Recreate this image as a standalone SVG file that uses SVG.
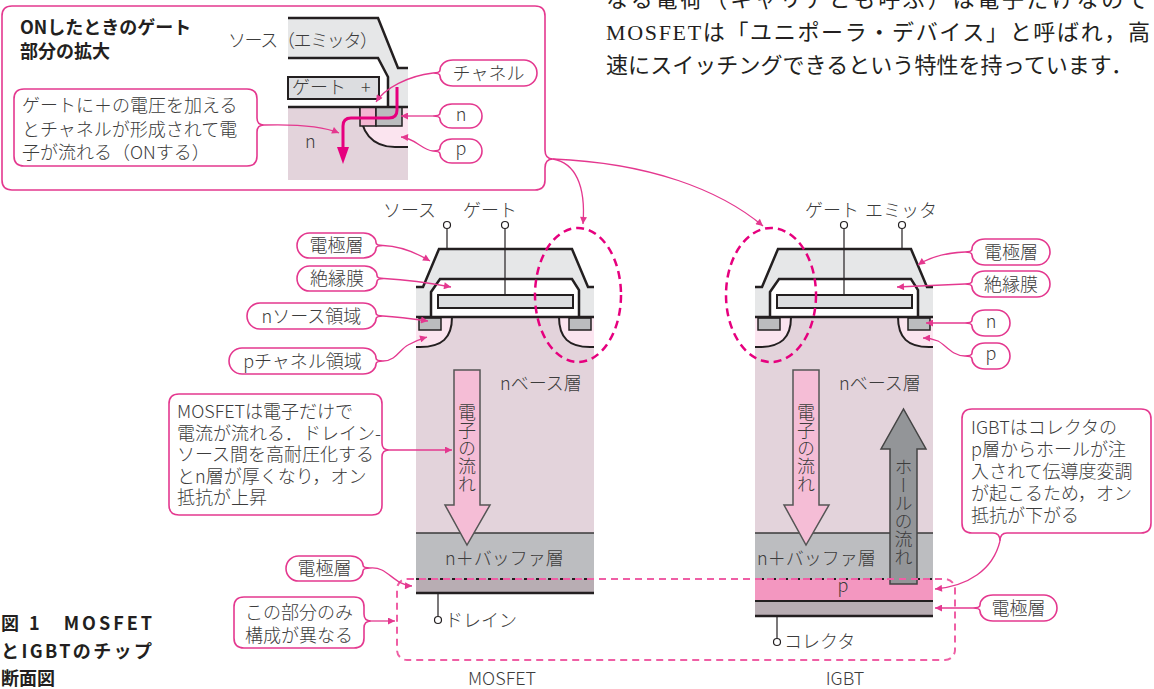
<svg xmlns="http://www.w3.org/2000/svg" width="1154" height="689" viewBox="0 0 1154 689">
  <style>
    .t { font-family: "Noto Sans CJK JP", "Noto Sans", sans-serif; fill: #3c3c3c; font-size: 18px; font-weight: 300; }
    .b { font-weight: bold; fill: #231f20; }
    .ser { font-family: "Liberation Serif", "Noto Sans CJK JP", serif; fill: #231f20; font-size: 22px; }
    .bub { fill: #fff; stroke: #e4388f; stroke-width: 1.6; }
    .con { fill: none; stroke: #e4388f; stroke-width: 1.3; }
    .ol { fill: none; stroke: #231f20; stroke-width: 2.5; stroke-linejoin: miter; }
    .thin { fill: none; stroke: #231f20; stroke-width: 1.2; }
    .term { fill: #fff; stroke: #231f20; stroke-width: 1.2; }
    .sub { fill: #e3d3db; }
    .elec { fill: #e6e7e8; }
    .gate { fill: #dcdde0; stroke: #231f20; stroke-width: 2; }
    .nreg { fill: #bbbcbe; stroke: #231f20; stroke-width: 1.5; }
    .preg { fill: #fbe4ef; }
    .curve { fill: none; stroke: #231f20; stroke-width: 2; }
    .ell { fill: none; stroke: #e6007e; stroke-width: 2.5; stroke-dasharray: 8 5; }
    .vt { writing-mode: vertical-rl; }
  </style>
  <defs>
    <marker id="ah" viewBox="0 0 10 10" refX="10" refY="5" markerWidth="9" markerHeight="7" markerUnits="userSpaceOnUse" orient="auto">
      <path d="M0,0 L10,5 L0,10 Z" fill="#e4388f"/>
    </marker>
  </defs>

  <!-- body text, top right -->
  <g id="body-text">
    <text class="ser" x="606" y="7" textLength="542" lengthAdjust="spacing">なる電荷（キャリアとも呼ぶ）は電子だけなので</text>
    <text class="ser" x="606" y="40" textLength="544" lengthAdjust="spacing">MOSFETは「ユニポーラ・デバイス」と呼ばれ，高</text>
    <text class="ser" x="606" y="73" textLength="527" lengthAdjust="spacing">速にスイッチングできるという特性を持っています．</text>
  </g>

  <!-- enlarged gate region (ON state) -->
  <g id="inset">
    <path class="bub" d="M12,6 H535 Q545,6 545,16 V150 Q545,159 553,159 Q545,159 545,168 V180 Q545,190 535,190 H12 Q2,190 2,180 V16 Q2,6 12,6 Z"/>
    <text class="t b" x="20" y="34">ONしたときのゲート</text>
    <text class="t b" x="20" y="58">部分の拡大</text>
    <!-- cut-away -->
    <rect class="sub" x="288" y="107" width="120" height="73"/>
    <path class="elec" d="M288,18 L378,18 L398,68 L408,68 L408,107 L388,107 L388,77 L378,58 L288,58 Z"/>
    <polyline class="ol" points="288,18 378,18 398,68 408,68"/>
    <polyline class="ol" points="288,58 378,58 388,77 388,107"/>
    <rect class="gate" x="288" y="77" width="91" height="22"/>
    <path class="preg" d="M360,107 L408,107 L408,147 L395,147 C372,147 360,132 360,107 Z"/>
    <path class="curve" d="M360,107 C360,132 372,147 395,147 L408,147"/>
    <rect x="360" y="107" width="16" height="19" fill="#f4b6d2" stroke="#231f20" stroke-width="1.5"/>
    <rect class="nreg" x="376" y="107" width="26" height="19"/>
    <line x1="288" y1="107" x2="408" y2="107" stroke="#231f20" stroke-width="2.5"/>
    <text class="t" x="228" y="47" font-size="17" textLength="150" lengthAdjust="spacing">ソース（エミッタ）</text>
    <text class="t" y="94" font-size="17"><tspan x="292">ゲート</tspan><tspan x="361">+</tspan></text>
    <text class="t" x="305" y="148" font-size="19">n</text>
    <!-- electron path through the channel -->
    <path d="M397,87 V110 Q397,118 389,118 H351 Q343,118 343,126 V150" fill="none" stroke="#e6007e" stroke-width="3"/>
    <polygon points="337,147 349,147 343,164" fill="#e6007e"/>
  </g>
  <g id="inset-note">
    <path class="bub" d="M24,89 H247 Q257,89 257,99 V118 Q257,125 264,125 Q257,125 257,132 V156 Q257,166 247,166 H24 Q14,166 14,156 V99 Q14,89 24,89 Z"/>
    <text class="t" x="22" y="112" font-size="18.5">ゲートに＋の電圧を加える</text>
    <text class="t" x="22" y="136" font-size="18.5">とチャネルが形成されて電</text>
    <text class="t" x="22" y="159" font-size="18.5">子が流れる（ONする）</text>
  </g>
  <g id="inset-channel">
    <path class="bub" d="M453,60 H524 A13,13 0 0 1 524,86 H453 C445,86 440,81 440,76 Q440,73 433,73 Q440,73 440,70 C440,65 445,60 453,60 Z"/>
    <text class="t" x="488.5" y="80" text-anchor="middle">チャネル</text>
  </g>
  <g id="inset-n">
    <path class="bub" d="M452,104 H470 A12,12 0 0 1 470,128 H452 C444.5,128 440,123 440,119 Q440,116 433,116 Q440,116 440,113 C440,109 444.5,104 452,104 Z"/>
    <text class="t" x="461" y="121" text-anchor="middle" font-size="19">n</text>
  </g>
  <g id="inset-p">
    <path class="bub" d="M452,139 H470 A12,12 0 0 1 470,163 H452 C444.5,163 440,158 440,154 Q440,151 433,151 Q440,151 440,148 C440,144 444.5,139 452,139 Z"/>
    <text class="t" x="461" y="155" text-anchor="middle" font-size="19">p</text>
  </g>

  <!-- MOSFET cross-section -->
  <g id="mosfet">
    <rect class="sub" x="416" y="317" width="178" height="216"/>
    <rect x="416" y="533" width="178" height="46" fill="#bcbdc0"/>
    <rect x="416" y="579" width="178" height="14" fill="#b8adb3"/>
    <line x1="416" y1="533" x2="594" y2="533" stroke="#3a3a3a" stroke-width="1.5"/>
    <line x1="416" y1="579" x2="594" y2="579" stroke="#231f20" stroke-width="2" stroke-dasharray="3 3"/>
    <line x1="416" y1="593" x2="594" y2="593" stroke="#231f20" stroke-width="2.5"/>
    <path class="elec" d="M416,287 L423,287 L439,249 L572,249 L588,287 L594,287 L594,317 L416,317 Z"/>
    <path d="M431,317 L431,292 L440,279 L572,279 L579,290 L579,317 Z" fill="#fff"/>
    <polyline class="ol" points="416,287 423,287 439,249 572,249 588,287 594,287"/>
    <polyline class="ol" points="431,317 431,292 440,279 572,279 579,290 579,317"/>
    <rect class="gate" x="438" y="295" width="135" height="13"/>
    <path class="preg" d="M416,317 L452,317 C452,338 442,347 420,347 L416,347 Z"/>
    <path class="curve" d="M452,317 C452,338 442,347 420,347 L416,347"/>
    <path class="preg" d="M559,317 L594,317 L594,347 L590,347 C569,347 559,338 559,317 Z"/>
    <path class="curve" d="M559,317 C559,338 569,347 590,347 L594,347"/>
    <rect class="nreg" x="419" y="318" width="22" height="12"/>
    <rect class="nreg" x="569" y="318" width="22" height="12"/>
    <line x1="416" y1="317" x2="594" y2="317" stroke="#231f20" stroke-width="2.5"/>
    <line class="thin" x1="447" y1="229" x2="447" y2="249"/>
    <line class="thin" x1="505" y1="229" x2="505" y2="295"/>
    <circle class="term" cx="447" cy="225" r="3.5"/>
    <circle class="term" cx="505" cy="225" r="3.5"/>
    <text class="t" x="383" y="217" font-size="18.5">ソース</text>
    <text class="t" x="463" y="217" font-size="18.5">ゲート</text>
    <text class="t" x="500" y="390" font-size="19">nベース層</text>
    <polygon points="454,370 480,370 480,505 490,505 467,545 445,505 454,505" fill="#f5bdd6" stroke="#555" stroke-width="1.5"/>
    <text class="t vt" x="467" y="403" font-size="19">電子の流れ</text>
    <text class="t" x="445" y="565" font-size="19">n＋バッファ層</text>
    <line class="thin" x1="438" y1="593" x2="438" y2="616"/>
    <circle class="term" cx="438" cy="620" r="3.5"/>
    <text class="t" x="445" y="627" font-size="19">ドレイン</text>
    <text class="t" x="502" y="685" text-anchor="middle">MOSFET</text>
  </g>

  <!-- IGBT cross-section -->
  <g id="igbt">
    <rect class="sub" x="755" y="317" width="178" height="216"/>
    <rect x="755" y="533" width="178" height="46" fill="#bcbdc0"/>
    <rect x="755" y="579" width="178" height="22" fill="#f397c0"/>
    <rect x="755" y="601" width="178" height="15" fill="#b8adb3"/>
    <line x1="755" y1="533" x2="933" y2="533" stroke="#3a3a3a" stroke-width="1.5"/>
    <line x1="755" y1="579" x2="933" y2="579" stroke="#231f20" stroke-width="2" stroke-dasharray="3 3"/>
    <line x1="755" y1="601" x2="933" y2="601" stroke="#231f20" stroke-width="2"/>
    <line x1="755" y1="616" x2="933" y2="616" stroke="#231f20" stroke-width="2.5"/>
    <path class="elec" d="M755,287 L762,287 L778,249 L911,249 L927,287 L933,287 L933,317 L755,317 Z"/>
    <path d="M770,317 L770,292 L779,279 L911,279 L918,290 L918,317 Z" fill="#fff"/>
    <polyline class="ol" points="755,287 762,287 778,249 911,249 927,287 933,287"/>
    <polyline class="ol" points="770,317 770,292 779,279 911,279 918,290 918,317"/>
    <rect class="gate" x="777" y="295" width="135" height="13"/>
    <path class="preg" d="M755,317 L791,317 C791,338 781,347 759,347 L755,347 Z"/>
    <path class="curve" d="M791,317 C791,338 781,347 759,347 L755,347"/>
    <path class="preg" d="M898,317 L933,317 L933,347 L929,347 C908,347 898,338 898,317 Z"/>
    <path class="curve" d="M898,317 C898,338 908,347 929,347 L933,347"/>
    <rect class="nreg" x="758" y="318" width="22" height="12"/>
    <rect class="nreg" x="908" y="318" width="22" height="12"/>
    <line x1="755" y1="317" x2="933" y2="317" stroke="#231f20" stroke-width="2.5"/>
    <line class="thin" x1="844" y1="229" x2="844" y2="295"/>
    <line class="thin" x1="902" y1="229" x2="902" y2="249"/>
    <circle class="term" cx="844" cy="225" r="3.5"/>
    <circle class="term" cx="902" cy="225" r="3.5"/>
    <text class="t" x="805" y="217" font-size="18.5">ゲート</text>
    <text class="t" x="865" y="217" font-size="18.5">エミッタ</text>
    <text class="t" x="839" y="390" font-size="19">nベース層</text>
    <polygon points="793,370 819,370 819,505 829,505 806,545 784,505 793,505" fill="#f5bdd6" stroke="#555" stroke-width="1.5"/>
    <text class="t vt" x="806" y="403" font-size="19">電子の流れ</text>
    <text class="t" x="757" y="565" font-size="19">n＋バッファ層</text>
    <polygon points="890,584 917,584 917,449 926,449 903.5,409 881,449 890,449" fill="#939598" stroke="#444" stroke-width="1.5"/>
    <text class="t vt" x="903.5" y="458" font-size="19">ホールの流れ</text>
    <text class="t" x="843" y="592" text-anchor="middle" font-size="19">p</text>
    <line class="thin" x1="777" y1="616" x2="777" y2="638"/>
    <circle class="term" cx="777" cy="642" r="3.5"/>
    <text class="t" x="784" y="648" font-size="19">コレクタ</text>
    <text class="t" x="845" y="685" text-anchor="middle">IGBT</text>
  </g>

  <!-- highlighted regions -->
  <g id="highlights">
    <ellipse class="ell" cx="578" cy="295" rx="43" ry="67"/>
    <ellipse class="ell" cx="771" cy="295" rx="45" ry="67"/>
    <rect x="397" y="579" width="558" height="81" rx="10" fill="none" stroke="#ef5fa5" stroke-width="2" stroke-dasharray="7 5"/>
  </g>

  <!-- MOSFET callouts -->
  <g id="m-electrode">
    <path class="bub" d="M309.5,233 H363.5 C371,233 376,238 376,242.5 Q376,245.5 383,245.5 Q376,245.5 376,248.5 C376,253 371,258 363.5,258 H309.5 A12.5,12.5 0 0 1 309.5,233 Z"/>
    <text class="t" x="336.5" y="252" text-anchor="middle">電極層</text>
  </g>
  <g id="m-insulator">
    <path class="bub" d="M309.5,266 H364.5 C372,266 377,271 377,275.5 Q377,278.5 384,278.5 Q377,278.5 377,281.5 C377,286 372,291 364.5,291 H309.5 A12.5,12.5 0 0 1 309.5,266 Z"/>
    <text class="t" x="337" y="285" text-anchor="middle">絶縁膜</text>
  </g>
  <g id="m-nsource">
    <path class="bub" d="M260,303 H363 C371,303 376,308 376,313 Q376,316 383,316 Q376,316 376,319 C376,324 371,329 363,329 H260 A13,13 0 0 1 260,303 Z"/>
    <text class="t" x="311.5" y="323" text-anchor="middle">nソース領域</text>
  </g>
  <g id="m-pchannel">
    <path class="bub" d="M242,348 H363 C371,348 376,353 376,358 Q376,361 383,361 Q376,361 376,364 C376,369 371,374 363,374 H242 A13,13 0 0 1 242,348 Z"/>
    <text class="t" x="302.5" y="368" text-anchor="middle">pチャネル領域</text>
  </g>
  <g id="m-note">
    <path class="bub" d="M179,394 H372 Q382,394 382,404 V443 Q382,450 389,450 Q382,450 382,457 V505 Q382,515 372,515 H179 Q169,515 169,505 V404 Q169,394 179,394 Z"/>
    <text class="t" x="177" y="418" font-size="17.5">MOSFETは電子だけで</text>
    <text class="t" x="177" y="439.5" font-size="17.5">電流が流れる．ドレイン-</text>
    <text class="t" x="177" y="461" font-size="17.5">ソース間を高耐圧化する</text>
    <text class="t" x="177" y="482.5" font-size="17.5">とn層が厚くなり，オン</text>
    <text class="t" x="177" y="504" font-size="17.5">抵抗が上昇</text>
  </g>
  <g id="m-bottom-electrode">
    <path class="bub" d="M298.5,556 H350.5 C358,556 363,561 363,565 Q363,568 370,568 Q363,568 363,571 C363,576 358,581 350.5,581 H298.5 A12.5,12.5 0 0 1 298.5,556 Z"/>
    <text class="t" x="324.5" y="575" text-anchor="middle">電極層</text>
  </g>
  <g id="diff-note">
    <path class="bub" d="M244,597 H354 Q364,597 364,607 V614 Q364,621 371,621 Q364,621 364,628 V638 Q364,648 354,648 H244 Q234,648 234,638 V607 Q234,597 244,597 Z"/>
    <text class="t" x="245" y="619">この部分のみ</text>
    <text class="t" x="245" y="642">構成が異なる</text>
  </g>

  <!-- IGBT callouts -->
  <g id="i-electrode">
    <path class="bub" d="M985,239 H1037 A13,13 0 0 1 1037,265 H985 C977,265 972,260 972,255 Q972,252 965,252 Q972,252 972,249 C972,244 977,239 985,239 Z"/>
    <text class="t" x="1011" y="259" text-anchor="middle">電極層</text>
  </g>
  <g id="i-insulator">
    <path class="bub" d="M985,271 H1037 A13,13 0 0 1 1037,297 H985 C977,297 972,292 972,287 Q972,284 965,284 Q972,284 972,281 C972,276 977,271 985,271 Z"/>
    <text class="t" x="1011" y="291" text-anchor="middle">絶縁膜</text>
  </g>
  <g id="i-n">
    <path class="bub" d="M985,310 H997 A13,13 0 0 1 997,336 H985 C977,336 972,331 972,326 Q972,323 965,323 Q972,323 972,320 C972,315 977,310 985,310 Z"/>
    <text class="t" x="991" y="328" text-anchor="middle" font-size="19">n</text>
  </g>
  <g id="i-p">
    <path class="bub" d="M985,343 H997 A13,13 0 0 1 997,369 H985 C977,369 972,364 972,359 Q972,356 965,356 Q972,356 972,353 C972,348 977,343 985,343 Z"/>
    <text class="t" x="991" y="360" text-anchor="middle" font-size="19">p</text>
  </g>
  <g id="i-note">
    <path class="bub" d="M972,409 H1141 Q1151,409 1151,419 V523 Q1151,533 1141,533 H1007 Q1000,533 1000,541 Q1000,533 993,533 H972 Q962,533 962,523 V419 Q962,409 972,409 Z"/>
    <text class="t" x="971" y="434" font-size="18.5">IGBTはコレクタの</text>
    <text class="t" x="971" y="456" font-size="18.5">p層からホールが注</text>
    <text class="t" x="971" y="478" font-size="18.5">入されて伝導度変調</text>
    <text class="t" x="971" y="500" font-size="18.5">が起こるため，オン</text>
    <text class="t" x="971" y="522" font-size="18.5">抵抗が下がる</text>
  </g>
  <g id="i-bottom-electrode">
    <path class="bub" d="M993,595 H1044 A13,13 0 0 1 1044,621 H993 C985,621 980,616 980,611 Q980,608 973,608 Q980,608 980,605 C980,600 985,595 993,595 Z"/>
    <text class="t" x="1018.5" y="615" text-anchor="middle">電極層</text>
  </g>

  <!-- figure caption -->
  <g id="caption">
    <text class="t b" x="1" y="630" font-size="17" textLength="151" lengthAdjust="spacing">図 1　MOSFET</text>
    <text class="t b" x="1" y="658" font-size="17" textLength="151" lengthAdjust="spacing">とIGBTのチップ</text>
    <text class="t b" x="1" y="685" font-size="17">断面図</text>
  </g>

  <!-- leader lines -->
  <g id="connectors">
    <path class="con" marker-end="url(#ah)" d="M264,125 C300,124 325,127 339,133"/>
    <path class="con" marker-end="url(#ah)" d="M433,73 C408,76 385,88 376,102"/>
    <path class="con" marker-end="url(#ah)" d="M433,116 H401"/>
    <path class="con" marker-end="url(#ah)" d="M433,151 C422,150 415,138 401,137"/>
    <path class="con" marker-end="url(#ah)" d="M553,159 C575,163 586,185 583,224"/>
    <path class="con" marker-end="url(#ah)" d="M553,159 C650,163 720,190 763,226"/>
    <path class="con" marker-end="url(#ah)" d="M383,245.5 C400,246 415,252 430,261"/>
    <path class="con" marker-end="url(#ah)" d="M384,278.5 C410,280 430,283 451,287"/>
    <path class="con" marker-end="url(#ah)" d="M383,316 C400,317 414,319 428,321"/>
    <path class="con" marker-end="url(#ah)" d="M383,361 C396,361 400,349 408,345 C415,341 420,339 427,337"/>
    <path class="con" marker-end="url(#ah)" d="M389,450 H452"/>
    <path class="con" marker-end="url(#ah)" d="M370,568 C388,566 393,585 412,586"/>
    <path class="con" marker-end="url(#ah)" d="M371,621 H395"/>
    <path class="con" marker-end="url(#ah)" d="M965,252 C945,253 928,258 918,265"/>
    <path class="con" marker-end="url(#ah)" d="M965,284 C940,285 918,286 897,287"/>
    <path class="con" marker-end="url(#ah)" d="M965,323 H926"/>
    <path class="con" marker-end="url(#ah)" d="M965,356 C952,356 946,345 938,341 C933,339 928,338 923,338"/>
    <path class="con" marker-end="url(#ah)" d="M1000,541 C993,570 968,586 935,589"/>
    <path class="con" marker-end="url(#ah)" d="M973,608 H935"/>
  </g>
</svg>
